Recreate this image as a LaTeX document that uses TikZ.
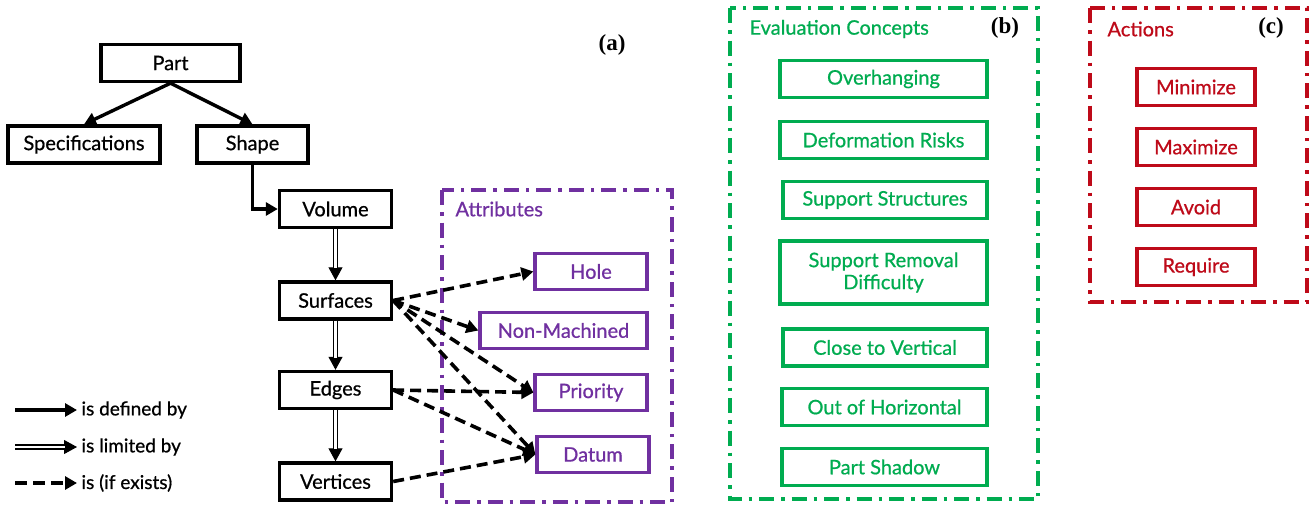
\documentclass[tikz,border=0pt]{standalone}
\usepackage{fontspec}
\setmainfont{Lato}[FakeBold=0.7]
\newfontfamily\labfont{Liberation Serif}
\usetikzlibrary{arrows.meta}
\definecolor{pur}{RGB}{112,48,160}
\definecolor{grn}{RGB}{0,172,80}
\definecolor{rd}{RGB}{190,10,25}
\begin{document}
\begin{tikzpicture}[x=1pt,y=-1pt,
  font=\fontsize{20}{22}\selectfont,
  box/.style={draw, line width=3.4pt, inner sep=0pt, minimum height=37pt, align=center},
  abox/.style={draw=pur, text=pur, line width=3.2pt, inner sep=0pt, minimum height=36pt},
  gbox/.style={draw=grn, text=grn, line width=3.2pt, inner sep=0pt, minimum height=37pt, align=center},
  rbox/.style={draw=rd, text=rd, line width=3.2pt, inner sep=0pt, minimum height=37pt, minimum width=118pt},
  frame/.style={line width=3.6pt, dash pattern=on 15pt off 7pt on 3.5pt off 7pt},
  arr/.style={line width=3.4pt, -{Triangle[length=12pt,width=13pt]}},
  dbl/.style={double, double distance=2.2pt, line width=1.5pt},
  thin/.style={line width=1pt, -{Triangle[length=13pt,width=14pt]}},
  dsh/.style={line width=3.6pt, dash pattern=on 11pt off 6pt, -{Triangle[length=12pt,width=13pt]}},
  lab/.style={font=\labfont\bfseries\fontsize{23}{25}\selectfont},
  leg/.style={anchor=west, font=\fontsize{19}{21}\selectfont}
]
\useasboundingbox (0,0) rectangle (1312,507);
\fill[white] (0,0) rectangle (1312,507);

% (a) tree
\node[box, minimum width=139pt] (part) at (170.5,63) {Part};
\node[box, minimum width=152pt] (spec) at (84,144.5) {Specifications};
\node[box, minimum width=111pt] (shape) at (252.5,144.5) {Shape};
\node[box, minimum width=112pt] (vol) at (335.5,209) {Volume};
\node[box, minimum width=112pt] (surf) at (335.5,300.5) {Surfaces};
\node[box, minimum width=112pt] (edge) at (335.5,390) {Edges};
\node[box, minimum width=112pt] (vert) at (335.5,481.5) {Vertices};

\draw[arr] (part.south) -- (spec.north);
\draw[arr] (part.south) -- (shape.north);
\draw[arr] (shape.south) |- (vol.west);

\foreach \a/\b in {vol/surf, surf/edge, edge/vert}{
  \draw[thin] (\a.south) -- (\b.north);
  \draw[dbl, shorten >=12pt] (\a.south) -- (\b.north);
}

% attributes
\draw[frame, pur] (442,190) rectangle (672,502);
\node[anchor=west, text=pur] (atitle) at (452,209) {Attributes};
\node[abox, minimum width=112pt] (hole) at (591,271.5) {Hole};
\node[abox, minimum width=167pt] (nonm) at (563.5,330.5) {Non-Machined};
\node[abox, minimum width=112pt] (prio) at (591,392.5) {Priority};
\node[abox, minimum width=112pt] (datum) at (593,454.5) {Datum};

\draw[dsh] (surf.east) -- (hole.west);
\draw[dsh] (surf.east) -- (nonm.west);
\draw[dsh] (surf.east) -- (prio.west);
\draw[dsh] (surf.east) -- (datum.west);
\draw[dsh] (edge.east) -- (prio.west);
\draw[dsh] (edge.east) -- (datum.west);
\draw[dsh] (vert.east) -- (datum.west);

\node[lab] (la) at (612,45) {(a)};

% legend
\coordinate (l1a) at (15,410); \coordinate (l1b) at (77,410);
\coordinate (l2a) at (15,447); \coordinate (l2b) at (77,447);
\coordinate (l3a) at (15,483); \coordinate (l3b) at (77,483);
\draw[arr] (l1a) -- (l1b);
\draw[thin] (l2a) -- (l2b);
\draw[dbl, shorten >=12pt] (l2a) -- (l2b);
\draw[dsh, dash pattern=on 12pt off 6pt] (l3a) -- (l3b);
\node[leg] (t1) at (78,410) {is defined by};
\node[leg] (t2) at (78,447) {is limited by};
\node[leg] (t3) at (78,483) {is (if exists)};

% (b) evaluation concepts
\draw[frame, grn] (730,8) rectangle (1038,499);
\node[anchor=west, text=grn] (etitle) at (746,29) {Evaluation Concepts};
\node[lab] (lb) at (1005,28) {(b)};
\node[gbox, minimum width=207pt] (ov) at (883.5,79) {Overhanging};
\node[gbox, minimum width=207pt] (def) at (883.5,140) {Deformation Risks};
\node[gbox, minimum width=204pt] (sup) at (885,200) {Support Structures};
\node[gbox, minimum width=207pt, minimum height=63pt] (srd) at (883.5,272.5) {Support Removal\\Difficulty};
\node[gbox, minimum width=204pt] (ctv) at (885,347.5) {Close to Vertical};
\node[gbox, minimum width=205pt] (ooh) at (884.5,407) {Out of Horizontal};
\node[gbox, minimum width=205pt] (ps) at (884.5,467) {Part Shadow};

% (c) actions
\draw[frame, rd] (1090,8) rectangle (1307,302);
\node[anchor=west, text=rd] (atit) at (1104,29) {Actions};
\node[lab] (lc) at (1271,28) {(c)};
\node[rbox] (min) at (1196,87) {Minimize};
\node[rbox] (max) at (1196,147) {Maximize};
\node[rbox] (avo) at (1196,207) {Avoid};
\node[rbox] (req) at (1196,267) {Require};
\end{tikzpicture}
\end{document}
